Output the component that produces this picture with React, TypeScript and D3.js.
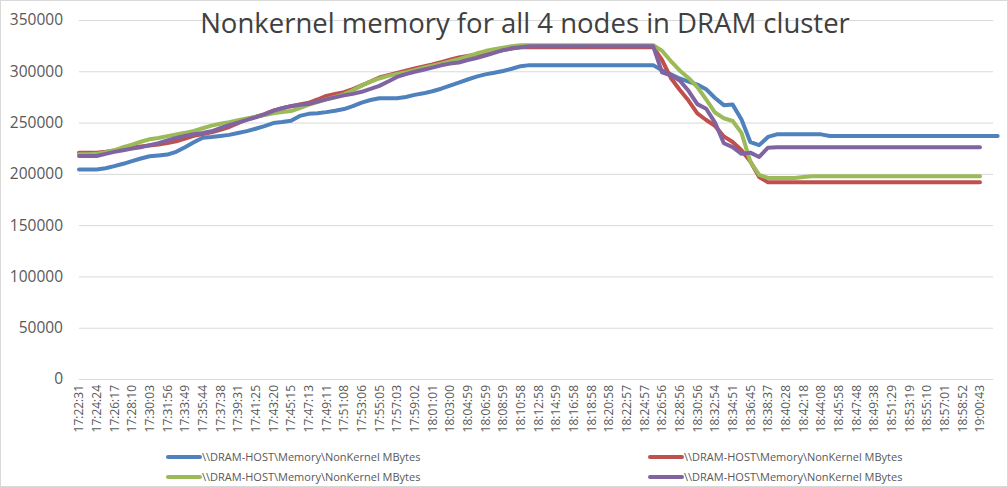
import React, { useEffect, useRef } from "react";
import * as d3 from "d3";

// category labels shown on the x axis (one label every 2 samples)
const timeLabels = [
  "17:22:31", "17:24:24", "17:26:17", "17:28:10", "17:30:03", "17:31:56", "17:33:49", "17:35:44",
  "17:37:38", "17:39:31", "17:41:25", "17:43:20", "17:45:15", "17:47:13", "17:49:11", "17:51:08",
  "17:53:06", "17:55:05", "17:57:03", "17:59:02", "18:01:01", "18:03:00", "18:04:59", "18:06:59",
  "18:08:59", "18:10:58", "18:12:58", "18:14:59", "18:16:58", "18:18:58", "18:20:58", "18:22:57",
  "18:24:57", "18:26:56", "18:28:56", "18:30:56", "18:32:54", "18:34:51", "18:36:45", "18:38:37",
  "18:40:28", "18:42:18", "18:44:08", "18:45:58", "18:47:48", "18:49:38", "18:51:29", "18:53:19",
  "18:55:10", "18:57:01", "18:58:52", "19:00:43",
];
const LABEL_EVERY = 2;

const yTicks = [0, 50000, 100000, 150000, 200000, 250000, 300000, 350000];

const nodeBlue = [
  204200, 204200, 204300, 205500, 207500, 209800, 212500, 215000, 217200, 218000,
  218800, 221500, 226000, 230800, 235200, 236000, 237000, 238000, 239800, 241700,
  244000, 246500, 249500, 250500, 251800, 256500, 258500, 259100, 260200, 261500,
  263200, 266000, 269500, 272000, 273700, 273700, 273700, 275000, 277000, 278500,
  280500, 283000, 286000, 289000, 292000, 294800, 297000, 298500, 300300, 302500,
  305000, 306000, 306000, 306000, 306000, 306000, 306000, 306000, 306000, 306000,
  306000, 306000, 306000, 306000, 306000, 306000, 301000, 297000, 293000, 290000,
  287000, 282500, 274000, 267000, 267500, 253000, 231000, 228000, 236000, 238500,
  238500, 238500, 238500, 238500, 238500, 237000, 237000, 237000, 237000, 237000,
  237000, 237000, 237000, 237000, 237000, 237000, 237000, 237000, 237000, 237000,
  237000, 237000, 237000, 237000, 237000,
];

const nodeRed = [
  220600, 220600, 220600, 221500, 222800, 224500, 226000, 226800, 227700, 228500,
  230000, 231800, 234500, 237000, 238800, 240500, 243000, 245700, 249500, 253000,
  255500, 258300, 261700, 264000, 266000, 267600, 269300, 272500, 276000, 277800,
  279600, 282600, 286300, 290000, 294000, 296200, 298300, 300500, 302800, 304800,
  306600, 309000, 311300, 313500, 315000, 316500, 318400, 319500, 320600, 322200,
  323400, 323500, 323500, 323500, 323500, 323500, 323500, 323500, 323500, 323500,
  323500, 323500, 323500, 323500, 323500, 323500, 311000, 293500, 282000, 271500,
  259000, 252500, 246800, 236500, 231000, 223000, 212000, 197000, 191700, 191700,
  191700, 191700, 191700, 191700, 191700, 191700, 191700, 191700, 191700, 191700,
  191700, 191700, 191700, 191700, 191700, 191700, 191700, 191700, 191700, 191700,
  191700, 191700, 191700,
];

const nodeGreen = [
  219000, 219000, 219500, 221000, 223000, 226000, 228500, 231300, 233700, 235000,
  236800, 238400, 240000, 241900, 244500, 247000, 248800, 250400, 252200, 254000,
  255700, 257300, 259100, 260300, 261200, 264000, 267500, 270000, 272600, 275000,
  277500, 281500, 286000, 290000, 293000, 295500, 297500, 299000, 301000, 303500,
  305500, 307300, 309500, 311800, 314500, 317300, 319700, 321500, 323000, 324500,
  325500, 325500, 325500, 325500, 325500, 325500, 325500, 325500, 325500, 325500,
  325500, 325500, 325500, 325500, 325500, 325500, 320000, 310000, 300800, 293500,
  284500, 272500, 259800, 254200, 251500, 240000, 212000, 199000, 196000, 196000,
  196000, 196000, 197000, 197600, 197600, 197600, 197600, 197600, 197600, 197600,
  197600, 197600, 197600, 197600, 197600, 197600, 197600, 197600, 197600, 197600,
  197600, 197600, 197600,
];

const nodePurple = [
  217300, 217300, 217400, 219500, 221400, 223000, 224600, 226000, 228000, 230000,
  232500, 235000, 237000, 238600, 239800, 241500, 244500, 247500, 250000, 252700,
  255200, 258000, 261500, 264000, 266000, 267300, 268000, 270400, 272600, 274600,
  276500, 278000, 280000, 282800, 285800, 290000, 294500, 297200, 299500, 301500,
  303600, 305800, 307500, 308600, 311000, 313000, 315300, 318000, 320600, 322400,
  323500, 324500, 324500, 324500, 324500, 324500, 324500, 324500, 324500, 324500,
  324500, 324500, 324500, 324500, 324500, 324500, 299000, 296000, 291000, 281000,
  268000, 263500, 250000, 229800, 226000, 219500, 220700, 216500, 225500, 226000,
  226000, 226000, 226000, 226000, 226000, 226000, 226000, 226000, 226000, 226000,
  226000, 226000, 226000, 226000, 226000, 226000, 226000, 226000, 226000, 226000,
  226000, 226000, 226000,
];

const seriesName = "\\\\DRAM-HOST\\Memory\\NonKernel MBytes";
const seriesList = [
  { name: seriesName, color: "#4F81BD", values: nodeBlue },
  { name: seriesName, color: "#C0504D", values: nodeRed },
  { name: seriesName, color: "#9BBB59", values: nodeGreen },
  { name: seriesName, color: "#8064A2", values: nodePurple },
];

const FONT = "'Open Sans', 'Liberation Sans', sans-serif";

export default function App() {
  const svgRef = useRef<SVGSVGElement | null>(null);

  useEffect(() => {
    if (!svgRef.current) return;
    document.body.style.margin = "0";
    const width = 1008;
    const height = 487;
    const svg = d3.select(svgRef.current);
    svg.selectAll("*").remove();
    svg.attr("width", width).attr("height", height).style("display", "block");

    svg
      .append("rect")
      .attr("x", 0.5)
      .attr("y", 0.5)
      .attr("width", width - 1)
      .attr("height", height - 1)
      .attr("fill", "#fff")
      .attr("stroke", "#D9D9D9");

    const plotLeft = 79;
    const plotRight = 993;

    const xScale = d3
      .scaleLinear()
      .domain([0, (timeLabels.length - 1) * LABEL_EVERY])
      .range([plotLeft, 980]);
    const yScale = d3.scaleLinear().domain([0, 350000]).range([379, 20]);

    // Y axis + gridlines
    const yAxis = svg
      .append("g")
      .attr("transform", `translate(${plotLeft},0)`)
      .call(
        d3
          .axisLeft(yScale)
          .tickValues(yTicks)
          .tickSize(-(plotRight - plotLeft))
          .tickPadding(16)
          .tickFormat(d3.format("d"))
      );
    yAxis.select(".domain").remove();
    yAxis.selectAll("line").attr("stroke", "#D9D9D9");
    yAxis
      .selectAll("text")
      .attr("fill", "#595959")
      .attr("font-size", 15.5)
      .attr("font-family", FONT);

    // X labels (rotated)
    svg
      .append("g")
      .selectAll("text")
      .data(timeLabels)
      .enter()
      .append("text")
      .attr("transform", (_, i) => `translate(${xScale(i * LABEL_EVERY)},385) rotate(-90)`)
      .attr("dy", "0.35em")
      .attr("text-anchor", "end")
      .attr("fill", "#595959")
      .attr("font-size", 12)
      .attr("font-family", FONT)
      .text((d) => d);

    // Lines
    const lineGen = d3
      .line<number>()
      .x((_, i) => xScale(i))
      .y((d) => yScale(d));

    seriesList.forEach((s) => {
      svg
        .append("path")
        .datum(s.values)
        .attr("fill", "none")
        .attr("stroke", s.color)
        .attr("stroke-width", 4)
        .attr("stroke-linejoin", "round")
        .attr("stroke-linecap", "round")
        .attr("d", lineGen);
    });

    // Title
    svg
      .append("text")
      .attr("x", 525)
      .attr("y", 33)
      .attr("text-anchor", "middle")
      .attr("fill", "#404040")
      .attr("font-size", 27.5)
      .attr("font-family", FONT)
      .text("Nonkernel memory for all 4 nodes in DRAM cluster");

    // Legend: 2 columns, row-wise
    const legendCols = [168, 650];
    const legendRows = [457, 477];
    const legend = svg
      .append("g")
      .selectAll("g")
      .data(seriesList)
      .enter()
      .append("g")
      .attr("transform", (_, i) => `translate(${legendCols[i % 2]},${legendRows[Math.floor(i / 2)]})`);
    legend
      .append("line")
      .attr("x1", 0)
      .attr("x2", 32)
      .attr("stroke", (d) => d.color)
      .attr("stroke-width", 4)
      .attr("stroke-linecap", "round");
    legend
      .append("text")
      .attr("x", 34)
      .attr("dy", "0.35em")
      .attr("fill", "#595959")
      .attr("font-size", 11)
      .attr("font-family", FONT)
      .text((d) => d.name);
  }, []);

  return <svg ref={svgRef} />;
}
